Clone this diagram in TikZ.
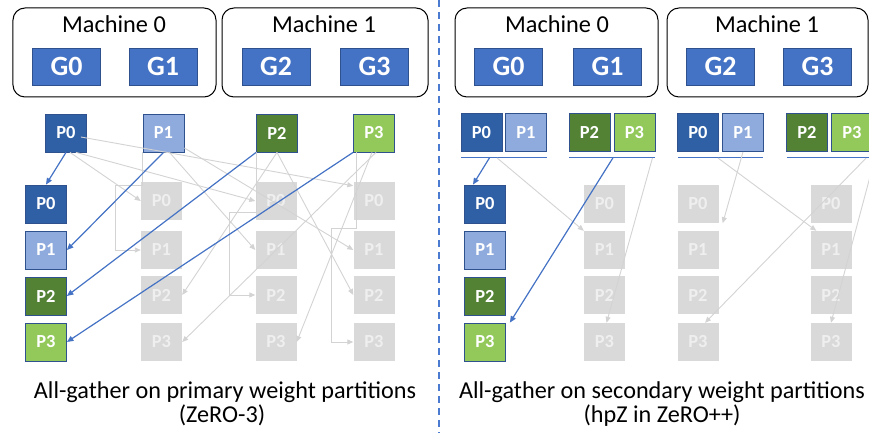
\documentclass[tikz,border=0pt]{standalone}
\usepackage{fontspec}
\setmainfont{Carlito}
\usetikzlibrary{arrows.meta,calc}
\definecolor{gblue}{HTML}{4472C4}
\definecolor{pdark}{HTML}{2F5FA5}
\definecolor{plight}{HTML}{8FAADC}
\definecolor{gdark}{HTML}{548235}
\definecolor{glight}{HTML}{92C95A}
\definecolor{pborder}{HTML}{2F528F}
\definecolor{gbox}{HTML}{D9D9D9}
\definecolor{garrow}{HTML}{D3D3D3}
\definecolor{gtext}{HTML}{EFEFEF}
\definecolor{divblue}{HTML}{4A7BD0}
\begin{document}
\begin{tikzpicture}[x=1bp,y=-1bp,
  machine/.style={draw=black,line width=1bp,rounded corners=12bp,fill=white,minimum height=89bp,inner sep=0pt},
  mlabel/.style={anchor=base,inner sep=0pt,font=\fontsize{24.4}{28}\selectfont},
  gpu/.style={fill=gblue,draw=pborder,line width=0.6bp,minimum width=68bp,minimum height=37bp,inner sep=0pt,text=white,font=\fontsize{28}{32}\selectfont\bfseries},
  pbox/.style={draw=pborder,line width=0.8bp,minimum width=41bp,minimum height=38bp,inner sep=0pt,text=white,font=\fontsize{18.5}{22}\selectfont\bfseries},
  pa/.style={pbox,fill=pdark},
  pb/.style={pbox,fill=plight},
  pc/.style={pbox,fill=gdark},
  pd/.style={pbox,fill=glight},
  gray/.style={fill=gbox,minimum width=41bp,minimum height=38bp,inner sep=0pt,text=gtext,font=\fontsize{18.5}{22}\selectfont\bfseries},
  garr/.style={draw=garrow,line width=0.9bp,-{Triangle[length=6bp,width=5bp]}},
  barr/.style={draw=gblue,line width=1.2bp,-{Triangle[length=6.5bp,width=5.5bp]}},
  uline/.style={draw=gblue,line width=1bp},
  caption/.style={anchor=base,inner sep=0pt,font=\fontsize{24.3}{28}\selectfont},
  divider/.style={draw=divblue,line width=1.8bp,dash pattern=on 7bp off 5bp}
]
\useasboundingbox (0,0) rectangle (869,433);
\clip (0,0) rectangle (869,433);

% ---------------- left panel ----------------
\node[machine,minimum width=203bp] (mL0) at (114.5,52.5) {};
\node[machine,minimum width=206bp] (mL1) at (325,52.5) {};
\node[mlabel] (mL0t) at (114,33) {Machine 0};
\node[mlabel] (mL1t) at (324,33) {Machine 1};
\node[gpu] (gL0) at (66.5,66.5) {G0};
\node[gpu] (gL1) at (163,66.5) {G1};
\node[gpu] (gL2) at (276,66.5) {G2};
\node[gpu] (gL3) at (374.5,66.5) {G3};

\node[pa] (tP0) at (66,133) {P0};
\node[pb] (tP1) at (163.5,133) {P1};
\node[pc] (tP2) at (277,133) {P2};
\node[pd] (tP3) at (374,133) {P3};

\node[pa] (c1P0) at (46,204) {P0};
\node[pb] (c1P1) at (46,250) {P1};
\node[pc] (c1P2) at (46,296) {P2};
\node[pd] (c1P3) at (46,342) {P3};

\foreach \c/\x in {c2/161.5,c3/276,c4/374}{
  \node[gray] (\c P0) at (\x,201) {P0};
  \node[gray] (\c P1) at (\x,250) {P1};
  \node[gray] (\c P2) at (\x,295) {P2};
  \node[gray] (\c P3) at (\x,342) {P3};
}

% gray connectors (left)
\draw[garr] ([xshift=-6bp,yshift=-4bp]tP0.east) -- ([yshift=-4bp]c4P0.north west);
\draw[garr] ([xshift=4bp]tP0.south) -- (c2P0.west);
\draw[garr] ([xshift=10bp]tP0.south) -- (c3P0.west);
\draw[garr] (tP1.south west) -- ++(0,33) -- ++(-27,0) |- (c2P1.west);
\draw[garr] ([xshift=6bp]tP1.south) -- (c3P1.west);
\draw[garr] ([yshift=-15bp]tP1.east) -- (c4P1.west);
\draw[garr] (tP2.south west) -- ++(0,60) -- ++(-27,0) |- (c3P2.west);
\draw[garr] (tP2.south) -- (c2P2.east);
\draw[garr] (tP2.south) -- (c4P2.west);
\draw[garr] ([xshift=3bp]tP3.south west) -- ++(0,76) -- ++(-25,0) |- (c4P3.west);
\draw[garr] ([xshift=-2bp]tP3.south) -- (c3P3.east);
\draw[garr] ([xshift=2bp]tP3.south) -- (c2P3.east);

% blue connectors (left)
\draw[barr] (tP0.south) -- (c1P0.north);
\draw[barr] (tP1.south) -- (c1P1.east);
\draw[barr] (tP2.south west) -- (c1P2.east);
\draw[barr] (tP3.south west) -- (c1P3.east);

\node[caption] (capL1) at (225,398) {All-gather on primary weight partitions};
\node[caption] (capL2) at (222,422) {(ZeRO-3)};

% ---------------- divider ----------------
\draw[divider] (439,0) -- (439,433);

% ---------------- right panel ----------------
\node[machine,minimum width=203bp] (mR0) at (556.5,52.5) {};
\node[machine,minimum width=201bp] (mR1) at (767.5,52.5) {};
\node[mlabel] (mR0t) at (557,33) {Machine 0};
\node[mlabel] (mR1t) at (767,33) {Machine 1};
\node[gpu] (gR0) at (508.5,66.5) {G0};
\node[gpu] (gR1) at (607.5,66.5) {G1};
\node[gpu] (gR2) at (720.5,66.5) {G2};
\node[gpu] (gR3) at (817.5,66.5) {G3};

\node[pa] (rtP0) at (481.5,132.5) {P0};
\node[pb] (rtP1) at (526,132.5) {P1};
\node[pc] (rtP2) at (589.5,132.5) {P2};
\node[pd] (rtP3) at (634.5,132.5) {P3};
\node[pa] (rtP0b) at (698,132.5) {P0};
\node[pb] (rtP1b) at (743,132.5) {P1};
\node[pc] (rtP2b) at (807,132.5) {P2};
\node[pd] (rtP3b) at (852,132.5) {P3};

\coordinate (u1a) at (461,158); \coordinate (u1b) at (547,158);
\coordinate (u2a) at (569,158); \coordinate (u2b) at (655,158);
\coordinate (u3a) at (678,158); \coordinate (u3b) at (763,158);
\coordinate (u4a) at (787,158); \coordinate (u4b) at (875,158);
\draw[uline] (u1a) -- (u1b);
\draw[uline] (u2a) -- (u2b);
\draw[uline] (u3a) -- (u3b);
\draw[uline] (u4a) -- (u4b);

\node[pa] (r1P0) at (485,204) {P0};
\node[pb] (r1P1) at (485,250) {P1};
\node[pc] (r1P2) at (485,296) {P2};
\node[pd] (r1P3) at (485,342) {P3};
\foreach \c/\x in {r2/604.5,r3/698,r4/831}{
  \node[gray] (\c P0) at (\x,204) {P0};
  \node[gray] (\c P1) at (\x,250) {P1};
  \node[gray] (\c P2) at (\x,295) {P2};
  \node[gray] (\c P3) at (\x,342) {P3};
}

% gray connectors (right)
\draw[garr] ($(u1a)!0.42!(u1b)$) -- (r2P1.north west);
\draw[garr] ($(u2a)!0.97!(u2b)$) -- ([xshift=2bp]r2P3.north);
\draw[garr] ($(u3a)!0.47!(u3b)$) -- ([xshift=6bp]r4P1.north west);
\draw[garr] (rtP1b.south) -- ([xshift=4bp]r3P0.south east);
\draw[garr] ($(u4a)!0.9!(u4b)$) -- ([xshift=7bp]r3P3.north);
\draw[garr] (u4b) -- (r4P3.north);

% blue connectors (right)
\draw[barr] ($(u1a)!0.33!(u1b)$) -- ([xshift=-12bp]r1P0.north);
\draw[barr] ($(u2a)!0.51!(u2b)$) -- ([xshift=4bp]r1P3.north east);

\node[caption] (capR1) at (662,398) {All-gather on secondary weight partitions};
\node[caption] (capR2) at (662,422) {(hpZ in ZeRO++)};
\end{tikzpicture}
\end{document}
